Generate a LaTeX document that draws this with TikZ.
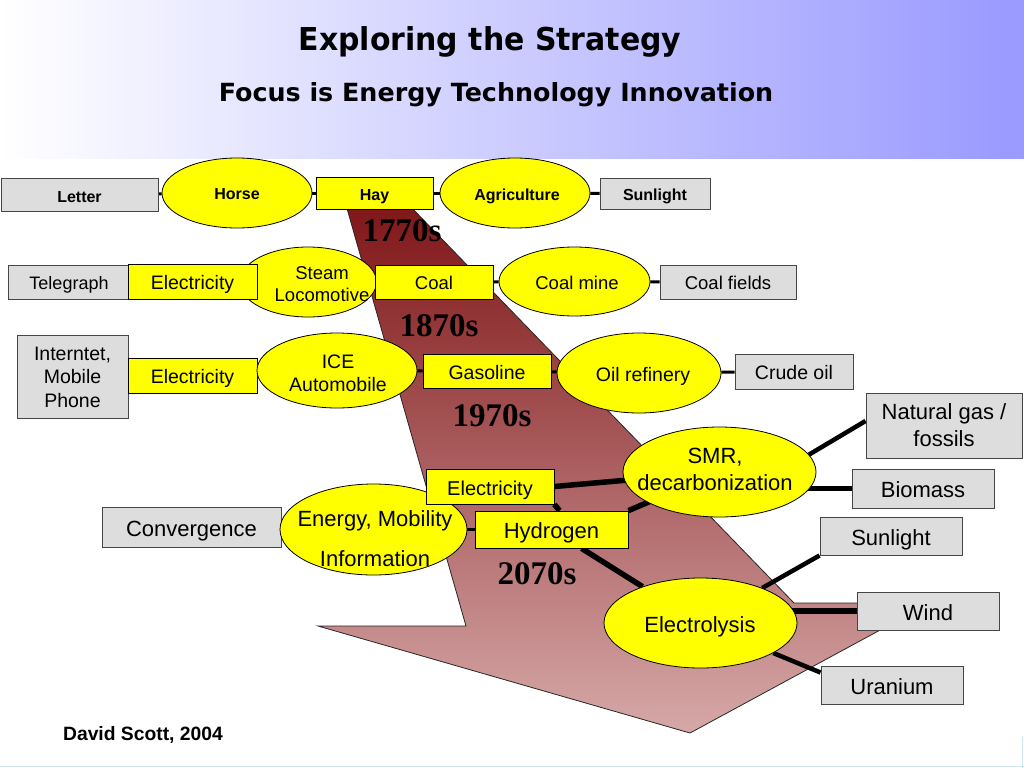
\documentclass[tikz,border=0pt]{standalone}
\usepackage{graphicx}
\usepackage{fontspec}
\setmainfont{Liberation Sans}
\newfontfamily\decfont{Liberation Serif}
\newfontfamily\titlefont{DejaVu Sans}
\usetikzlibrary{shapes.geometric}
\pgfdeclarelayer{arrowlayer}
\pgfdeclarelayer{linelayer}
\pgfsetlayers{arrowlayer,linelayer,main}
\definecolor{boxgray}{RGB}{221,221,221}
\definecolor{yel}{RGB}{255,255,0}
\definecolor{edgegray}{RGB}{70,70,70}
\definecolor{bandblue}{RGB}{153,153,255}
\definecolor{arrtop}{RGB}{128,22,24}
\definecolor{arrbot}{RGB}{214,168,168}
\definecolor{rimblue}{RGB}{205,230,240}
\newcommand{\fsz}[2]{\fontsize{#1pt}{#2pt}\selectfont}
\tikzset{
  graybox/.style={draw=edgegray, line width=1pt, fill=boxgray, inner sep=0pt, align=center, text=black},
  yelbox/.style={draw=black, line width=0.8pt, fill=yel, inner sep=0pt, align=center, text=black},
  yelell/.style={ellipse, draw=black, line width=0.8pt, fill=yel, inner sep=0pt},
  eltext/.style={inner sep=0pt, align=center, text=black},
  th/.style={text height=#1pt, text depth=0pt},
  thinlink/.style={line width=3pt, black},
  thicklink/.style={line width=5.5pt, black},
  midlink/.style={line width=4.5pt, black},
  decade/.style={font=\decfont\bfseries\fsz{33}{36}, inner sep=0pt, text=black},
}
\begin{document}
\begin{tikzpicture}[x=1pt, y=-1pt]
\useasboundingbox (0,0) rectangle (1024,768);
\begin{pgfonlayer}{arrowlayer}
  \fill[white] (0,0) rectangle (1024,768);
  \shade[left color=white, right color=bandblue] (0,0) rectangle (1024,158);
  \draw[rimblue, line width=1.5pt] (0,766.5) -- (1024,766.5);
  \draw[rimblue, line width=1.5pt] (1022.5,737) -- (1022.5,768);
  \shade[draw=black!85, line width=0.8pt, top color=arrtop, bottom color=arrbot]
    (346,205) -- (409,205) -- (794,603) -- (930,603) -- (690,733) -- (318,626) -- (466,626) -- cycle;
\end{pgfonlayer}

% titles
\node[font=\titlefont\bfseries\fsz{31.5}{36}, inner sep=0pt] (title) at (490,42) {\scalebox{0.95}[1]{Exploring the Strategy}};
\node[font=\titlefont\bfseries\fsz{25}{30}, inner sep=0pt] (subtitle) at (496,95) {\scalebox{1.015}[1]{Focus is Energy Technology Innovation}};
\node[font=\bfseries\fsz{19.3}{22}, inner sep=0pt, th=13.8] (author) at (143,734) {David Scott, 2004};

% decades
\node[decade] (d1) at (402,231) {1770s};
\node[decade] (d2) at (439,326) {1870s};
\node[decade] (d3) at (492,416) {1970s};
\node[decade] (d4) at (537,574) {2070s};

% row 1
\node[graybox, th=14.1, minimum width=157pt, minimum height=33pt, font=\bfseries\fsz{16}{19}] (letter) at (79.5,195) {Letter};
\node[yelell, minimum width=150pt, minimum height=70pt] (horse) at (237,193) {};
\node[eltext, th=11.5, font=\bfseries\fsz{16}{19}] (horse-t) at (237,194) {Horse};
\node[yelbox, th=14.1, minimum width=117pt, minimum height=32pt, font=\bfseries\fsz{16}{19}] (hay) at (374.5,193) {Hay};
\node[yelell, minimum width=150pt, minimum height=70pt] (agri) at (515,193) {};
\node[eltext, th=11.5, font=\bfseries\fsz{16}{19}] (agri-t) at (517,195) {Agriculture};
\node[graybox, th=14.1, minimum width=110pt, minimum height=31pt, font=\bfseries\fsz{16}{19}] (sun1) at (655,193.5) {Sunlight};

% row 2
\node[graybox, th=15.5, minimum width=122pt, minimum height=34pt, font=\fsz{18}{22}] (tel) at (69,282) {Telegraph};
\node[yelell, minimum width=137pt, minimum height=70pt] (steam) at (308,282) {};
\node[eltext, font=\fsz{18.5}{22}] (steam-t) at (322,284) {Steam\\Locomotive};
\node[yelbox, th=16.6, minimum width=129pt, minimum height=35pt, font=\fsz{19.5}{23}] (el1) at (192.5,281.5) {Electricity};
\node[yelbox, th=15.8, minimum width=118pt, minimum height=34pt, font=\fsz{18.5}{22}] (coal) at (434,282) {Coal};
\node[yelell, minimum width=151pt, minimum height=69pt] (cmine) at (574.5,281.5) {};
\node[eltext, th=13.2, font=\fsz{18.5}{22}] (cmine-t) at (577,283) {Coal mine};
\node[graybox, th=15.8, minimum width=136pt, minimum height=34pt, font=\fsz{18.5}{22}] (cfields) at (728,282) {Coal fields};

% row 3
\node[graybox, minimum width=111pt, minimum height=83pt, font=\fsz{19.5}{23.5}] (inet) at (72.5,377) {Interntet,\\Mobile\\Phone};
\node[yelbox, th=16.6, minimum width=129pt, minimum height=35pt, font=\fsz{19.5}{23}] (el2) at (192.5,375.5) {Electricity};
\node[yelell, minimum width=160pt, minimum height=75pt] (ice) at (337,370.5) {};
\node[eltext, font=\fsz{19.5}{23}] (ice-t) at (338,373.5) {ICE\\Automobile};
\node[yelbox, th=16.6, minimum width=128pt, minimum height=34pt, font=\fsz{19.5}{23}] (gas) at (487,371) {Gasoline};
\node[yelell, minimum width=164pt, minimum height=80pt] (oil) at (639,373) {};
\node[eltext, th=14, font=\fsz{19.5}{23}] (oil-t) at (643,374) {Oil refinery};
\node[graybox, th=16.6, minimum width=118pt, minimum height=35pt, font=\fsz{19.5}{23}] (crude) at (794,371.5) {Crude oil};

% row 4
\node[graybox, minimum width=156pt, minimum height=65pt, font=\fsz{22}{27}] (ng) at (944,425.5) {Natural gas /\\fossils};
\node[yelell, minimum width=193pt, minimum height=90pt] (smr) at (719.5,472) {};
\node[eltext, font=\fsz{22}{27}] (smr-t) at (715,469) {SMR,\\decarbonization};
\node[graybox, th=18.4, minimum width=142pt, minimum height=39pt, font=\fsz{22}{26}] (bio) at (923,488.5) {Biomass};
\node[graybox, th=18.4, minimum width=179pt, minimum height=40pt, font=\fsz{22}{26}] (conv) at (191.5,527) {Convergence};
\node[yelell, minimum width=187pt, minimum height=91pt] (energy) at (373.5,529.5) {};
\node[eltext, font=\fsz{22}{40}] (energy-t) at (375,538.5) {Energy, Mobility\\Information};
\node[yelbox, th=17, minimum width=128pt, minimum height=35pt, font=\fsz{20}{24}] (el3) at (490,486.5) {Electricity};
\node[yelbox, th=18.4, minimum width=153pt, minimum height=37pt, font=\fsz{22}{26}] (hyd) at (551.5,529.5) {Hydrogen};
\node[graybox, th=18.4, minimum width=142pt, minimum height=38pt, font=\fsz{22}{26}] (sun2) at (891,536) {Sunlight};
\node[yelell, minimum width=193pt, minimum height=90pt] (elec) at (700.5,623) {};
\node[eltext, th=15.8, font=\fsz{22}{26}] (elec-t) at (700,625) {Electrolysis};
\node[graybox, th=18.4, minimum width=142pt, minimum height=38pt, font=\fsz{22}{26}] (wind) at (928,611) {Wind};
\node[graybox, th=18.4, minimum width=142pt, minimum height=38pt, font=\fsz{22}{26}] (ura) at (892,685) {Uranium};

% connectors
\begin{pgfonlayer}{linelayer}
  \draw[thinlink] (letter) -- (horse);
  \draw[thinlink] (horse) -- (hay);
  \draw[thinlink] (hay) -- (agri);
  \draw[thinlink] (agri) -- (sun1);
  \draw[thinlink] (coal) -- (cmine);
  \draw[thinlink] (cmine) -- (cfields);
  \draw[thinlink] (ice) -- (gas);
  \draw[thinlink] (gas) -- (oil);
  \draw[thinlink] (oil) -- (crude);
  \draw[thinlink] (energy) -- (hyd);
  \draw[thicklink] (el3.east) -- (smr.center);
  \draw[thicklink] (el3.south east) -- ([xshift=8pt]hyd.north);
  \draw[thicklink] (hyd.north east) -- (smr.center);
  \draw[thicklink] (hyd) -- (elec);
  \draw[midlink] (smr.11) -- ([yshift=4.5pt]ng.west);
  \draw[thicklink] (bio.west) -- (smr.center |- bio.west);
  \draw[midlink] (elec) -- (sun2.south west);
  \draw[thicklink] (wind.west) -- (elec.center |- wind.west);
  \draw[midlink] (elec) -- ([yshift=-7pt]ura.north west);
\end{pgfonlayer}
\end{tikzpicture}
\end{document}
